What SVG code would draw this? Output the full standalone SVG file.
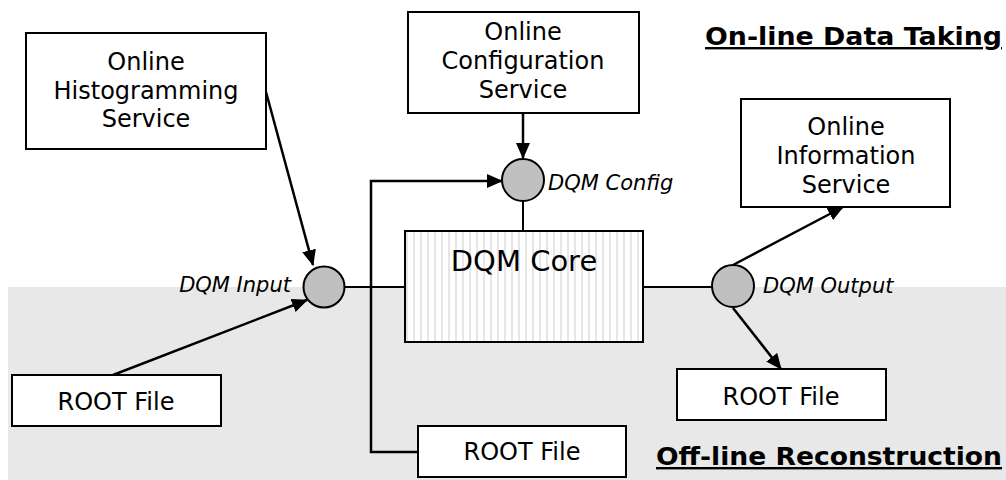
<svg xmlns="http://www.w3.org/2000/svg" width="1006" height="480" viewBox="0 0 1006 480">
<style>
.box{fill:#fff;stroke:#000;stroke-width:2}
.t{font-family:"DejaVu Sans","Verdana",sans-serif;font-size:24px;fill:#000;text-anchor:middle}
.lbl{font-family:"DejaVu Sans","Verdana",sans-serif;font-size:21px;font-style:italic;fill:#000}
.title{font-family:"DejaVu Sans","Verdana",sans-serif;font-size:24px;font-weight:bold;fill:#000;text-decoration:underline}
.ln{fill:none;stroke:#000;stroke-width:2}
.arr{fill:none;stroke:#000;stroke-width:2.5;marker-end:url(#ah)}
.port{fill:#c0c0c0;stroke:#000;stroke-width:2}
</style>
<defs>
<marker id="ah" markerUnits="userSpaceOnUse" markerWidth="16" markerHeight="14" viewBox="0 0 16 14" refX="15" refY="7" orient="auto">
<path d="M0,0 L16,7 L0,14 Z" fill="#000"/>
</marker>
<pattern id="stripes" patternUnits="userSpaceOnUse" width="7" height="10">
<rect width="7" height="10" fill="#fff"/>
<rect x="0" width="2" height="10" fill="#e6e6e6"/>
</pattern>
</defs>
<rect x="8" y="287" width="998" height="193" fill="#e8e8e8"/>
<g id="connectors">
<path class="ln" d="M344,287 H405"/>
<path class="ln" d="M643,287 H712"/>
<path class="ln" d="M523,201 V231"/>
<path class="arr" d="M266,92 L313,265"/>
<path class="arr" d="M113,375 L307,300"/>
<path class="arr" d="M523,113 V158"/>
<path class="arr" d="M418,452 H371 V181 H502"/>
<path class="arr" d="M733,265 L843,207"/>
<path class="arr" d="M733,308 L781,369"/>
</g>
<g id="hist">
<rect class="box" x="26" y="33" width="240" height="116"/>
<text class="t" x="146" y="70">Online</text>
<text class="t" x="146" y="99">Histogramming</text>
<text class="t" x="146" y="127">Service</text>
</g>
<g id="config">
<rect class="box" x="408" y="12" width="231" height="101"/>
<text class="t" x="523" y="40">Online</text>
<text class="t" x="523" y="69">Configuration</text>
<text class="t" x="523" y="98">Service</text>
</g>
<g id="info">
<rect class="box" x="741" y="99" width="209" height="108"/>
<text class="t" x="846" y="135">Online</text>
<text class="t" x="846" y="164">Information</text>
<text class="t" x="846" y="193">Service</text>
</g>
<g id="core">
<rect x="405" y="231" width="238" height="111" fill="url(#stripes)" stroke="#000" stroke-width="2"/>
<text class="t" x="524" y="271" style="font-size:29px">DQM Core</text>
</g>
<g id="dqm-input">
<circle class="port" cx="324" cy="287" r="20.5"/>
<text class="lbl" x="291" y="292" text-anchor="end">DQM Input</text>
</g>
<g id="dqm-config">
<circle class="port" cx="523" cy="180" r="21"/>
<text class="lbl" x="548" y="190">DQM Config</text>
</g>
<g id="dqm-output">
<circle class="port" cx="733" cy="286" r="21"/>
<text class="lbl" x="763" y="293">DQM Output</text>
</g>
<g id="root-left">
<rect class="box" x="12" y="375" width="209" height="51"/>
<text class="t" x="116" y="410">ROOT File</text>
</g>
<g id="root-bottom">
<rect class="box" x="418" y="426" width="208" height="51"/>
<text class="t" x="522" y="460">ROOT File</text>
</g>
<g id="root-right">
<rect class="box" x="677" y="369" width="209" height="51"/>
<text class="t" x="781" y="405">ROOT File</text>
</g>
<g id="titles">
<text class="title" x="705" y="45" textLength="297" lengthAdjust="spacingAndGlyphs">On-line Data Taking</text>
<text class="title" x="656" y="465" textLength="346" lengthAdjust="spacingAndGlyphs">Off-line Reconstruction</text>
</g>
</svg>
